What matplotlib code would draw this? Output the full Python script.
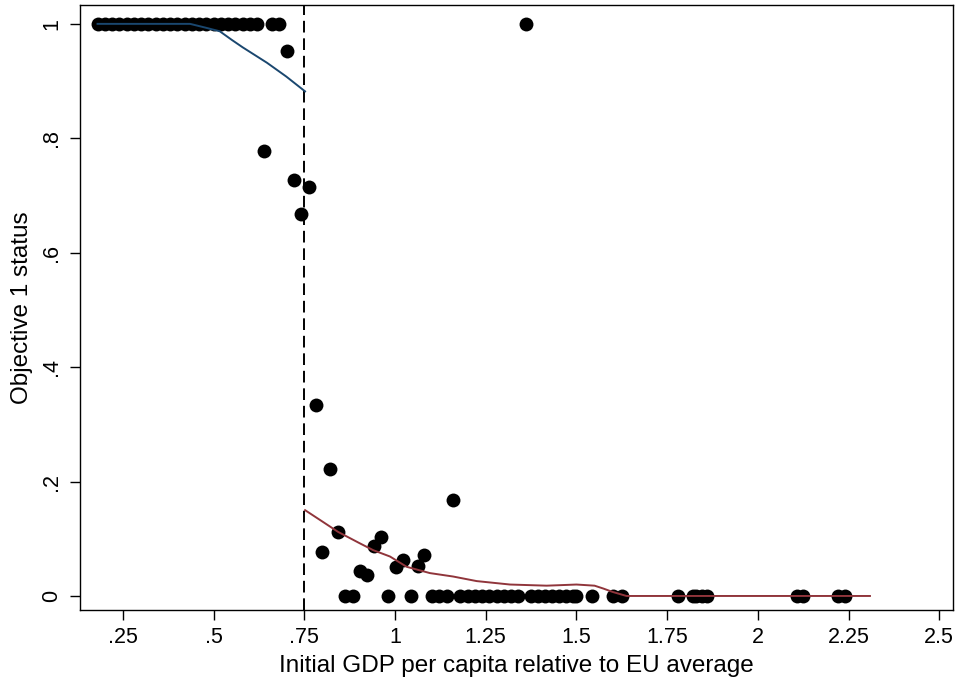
import matplotlib
matplotlib.use("Agg")
import matplotlib.pyplot as plt
from matplotlib.ticker import FixedLocator

plt.rcParams['font.family'] = ['Liberation Sans', 'DejaVu Sans']

# scatter data: initial GDP per capita (rel. to EU avg) vs Objective 1 status
x_pts = [0.18, 0.20, 0.22, 0.24, 0.26, 0.28, 0.30, 0.32, 0.34, 0.36, 0.38, 0.40,
         0.42, 0.44, 0.46, 0.48, 0.50, 0.52, 0.54, 0.56, 0.58, 0.60, 0.62, 0.66,
         0.68, 1.36,
         0.702, 0.639, 0.721, 0.763, 0.741, 0.782, 0.821, 1.16,
         0.843, 0.800, 0.903, 0.923, 0.942, 0.962, 1.002, 1.023, 1.062, 1.081,
         0.862, 0.884, 0.981, 1.043, 1.101, 1.120, 1.142,
         1.18, 1.20, 1.22, 1.24, 1.26, 1.28, 1.30, 1.32, 1.34,
         1.374, 1.394, 1.414, 1.433, 1.452, 1.471, 1.490, 1.50,
         1.542, 1.60, 1.625,
         1.78, 1.82, 1.83, 1.845, 1.86, 2.107, 2.125, 2.222, 2.24]
y_pts = [1, 1, 1, 1, 1, 1, 1, 1, 1, 1, 1, 1,
         1, 1, 1, 1, 1, 1, 1, 1, 1, 1, 1, 1,
         1, 1,
         0.953, 0.778, 0.727, 0.714, 0.667, 0.333, 0.222, 0.167,
         0.111, 0.077, 0.044, 0.036, 0.087, 0.103, 0.05, 0.063, 0.053, 0.071,
         0, 0, 0, 0, 0, 0, 0,
         0, 0, 0, 0, 0, 0, 0, 0, 0,
         0, 0, 0, 0, 0, 0, 0, 0,
         0, 0, 0,
         0, 0, 0, 0, 0, 0, 0, 0, 0]

# local fit left of threshold
fit_left_x = [0.18, 0.30, 0.435, 0.48, 0.517, 0.55, 0.58, 0.647, 0.70, 0.752]
fit_left_y = [1.0, 1.0, 1.0, 0.993, 0.987, 0.972, 0.959, 0.932, 0.908, 0.882]

# local fit right of threshold
fit_right_x = [0.752, 0.80, 0.843, 0.90, 0.94, 0.986, 1.032, 1.096, 1.16, 1.225,
               1.317, 1.418, 1.46, 1.50, 1.55, 1.574, 1.60, 1.638, 2.309]
fit_right_y = [0.150, 0.130, 0.112, 0.093, 0.080, 0.069, 0.051, 0.040, 0.034, 0.026,
               0.020, 0.018, 0.019, 0.020, 0.018, 0.013, 0.007, 0.0, 0.0]

threshold = 0.75

xticks = [0.25, 0.5, 0.75, 1, 1.25, 1.5, 1.75, 2, 2.25, 2.5]
xtick_labels = [".25", ".5", ".75", "1", "1.25", "1.5", "1.75", "2", "2.25", "2.5"]
yticks = [0, 0.2, 0.4, 0.6, 0.8, 1]
ytick_labels = ["0", ".2", ".4", ".6", ".8", "1"]

fig = plt.figure(figsize=(9.61, 6.83), dpi=100)
ax = fig.add_axes([0.0832, 0.1069, 0.9085, 0.8858])

ax.scatter(x_pts, y_pts, s=100, color="black", zorder=3, linewidths=0)
ax.plot(fit_left_x, fit_left_y, color="#1a476f", lw=1.4, zorder=4)
ax.plot(fit_right_x, fit_right_y, color="#90353b", lw=1.4, zorder=4)
ax.axvline(threshold, color="black", lw=1.4, ls=(0, (6, 3)), zorder=2)

ax.set_xlim(0.1315, 2.538)
ax.set_ylim(-0.0245, 1.033)
ax.xaxis.set_major_locator(FixedLocator(xticks))
ax.set_xticklabels(xtick_labels)
ax.yaxis.set_major_locator(FixedLocator(yticks))
ax.set_yticklabels(ytick_labels, rotation=90, va="center")
ax.tick_params(axis="both", labelsize=15.5, length=7, width=1, color="black")
ax.tick_params(axis="x", pad=5)
ax.tick_params(axis="y", pad=6)

ax.set_xlabel("Initial GDP per capita relative to EU average", fontsize=17.5, labelpad=5)
ax.set_ylabel("Objective 1 status", fontsize=17.5, labelpad=6)

for sp in ax.spines.values():
    sp.set_linewidth(1.0)
    sp.set_color("black")

fig.savefig("out.png", dpi=100)
